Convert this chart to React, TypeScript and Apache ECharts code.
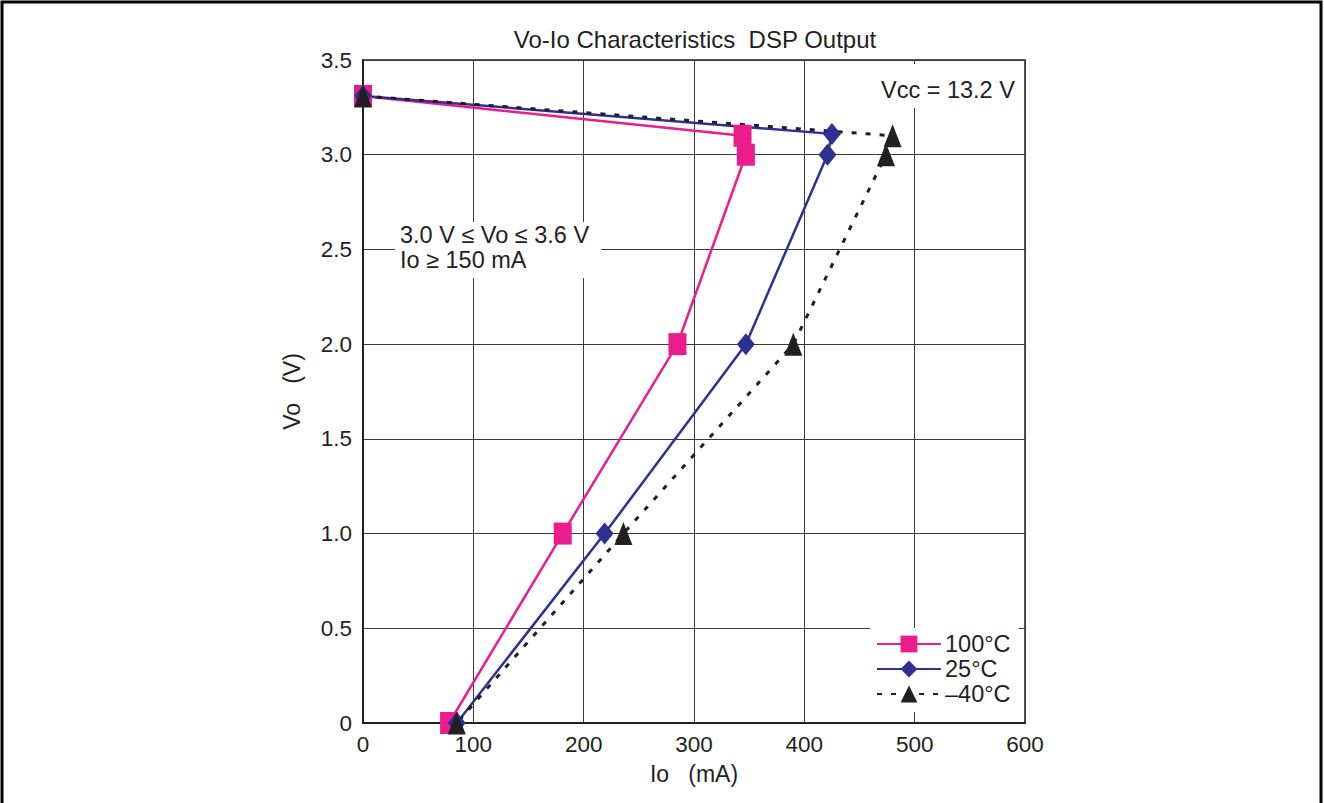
import React, { useEffect, useRef } from "react";
import * as echarts from "echarts";

const title = "Vo-Io Characteristics  DSP Output";
const seriesNames = ["100°C", "25°C", "–40°C"];
const io100 = [0, 344, 347, 285, 181, 78];
const vo100 = [3.31, 3.1, 3.0, 2.0, 1.0, 0];
const io25 = [0, 425, 421, 347, 219, 85];
const vo25 = [3.31, 3.11, 3.0, 2.0, 1.0, 0];
const ioM40 = [0, 480, 474, 390, 236, 85];
const voM40 = [3.31, 3.1, 3.0, 2.0, 1.0, 0];
const xTicks = [0, 100, 200, 300, 400, 500, 600];
const yTicks = [0, 0.5, 1.0, 1.5, 2.0, 2.5, 3.0, 3.5];
const noteLines = ["3.0 V ≤ Vo ≤ 3.6 V", "Io ≥ 150 mA"];
const vccNote = "Vcc = 13.2 V";

const FONT = "'Liberation Sans', Arial, Helvetica, sans-serif";
const INK = "#231f20";

function zip(xs: number[], ys: number[]) {
  return xs.map((x, i) => [x, ys[i]]);
}

export default function App() {
  const ref = useRef<HTMLDivElement>(null);
  useEffect(() => {
    if (!ref.current) return;
    const chart = echarts.init(ref.current, null, { renderer: "svg" });
    const option: any = {
      animation: false,
      backgroundColor: "#fff",
      textStyle: { fontFamily: FONT, color: INK },
      grid: {
        left: 363,
        top: 60,
        width: 662,
        height: 663,
        show: true,
        borderColor: INK,
        borderWidth: 1.5,
        backgroundColor: "transparent",
      },
      xAxis: {
        type: "value",
        min: xTicks[0],
        max: xTicks[xTicks.length - 1],
        interval: 100,
        name: "Io   (mA)",
        nameLocation: "middle",
        nameGap: 39,
        nameTextStyle: { fontSize: 23, color: INK, fontFamily: FONT },
        axisLine: { show: true, lineStyle: { color: INK, width: 2 } },
        axisTick: { show: false },
        axisLabel: { fontSize: 22.5, color: INK, fontFamily: FONT, margin: 10 },
        splitLine: { show: true, lineStyle: { color: "#3a3a3a", width: 1 } },
      },
      yAxis: {
        type: "value",
        min: yTicks[0],
        max: yTicks[yTicks.length - 1],
        interval: 0.5,
        name: "Vo   (V)",
        nameLocation: "middle",
        nameGap: 60,
        nameRotate: 90,
        nameTextStyle: { fontSize: 23, color: INK, fontFamily: FONT },
        axisLine: { show: true, lineStyle: { color: INK, width: 2 } },
        axisTick: { show: false },
        axisLabel: {
          fontSize: 22.5,
          color: INK,
          fontFamily: FONT,
          margin: 11,
          formatter: (v: number) => (v === 0 ? "0" : v.toFixed(1)),
        },
        splitLine: { show: true, lineStyle: { color: "#3a3a3a", width: 1 } },
      },
      legend: {
        orient: "vertical",
        left: 870,
        top: 628,
        itemWidth: 64,
        itemHeight: 21,
        itemGap: 1,
        padding: [4, 8, 6, 6],
        backgroundColor: "#fff",
        textStyle: {
          fontSize: 23.5,
          color: INK,
          fontFamily: FONT,
          padding: [0, 0, 0, -1],
        },
        data: seriesNames,
      },
      series: [
        {
          name: seriesNames[0],
          type: "line",
          data: zip(io100, vo100),
          clip: false,
          symbol: "rect",
          symbolSize: [18, 22],
          itemStyle: { color: "#ec1c8c" },
          lineStyle: { color: "#ec1c8c", width: 2.5 },
        },
        {
          name: seriesNames[1],
          type: "line",
          data: zip(io25, vo25),
          clip: false,
          symbol: "diamond",
          symbolSize: [18, 22],
          itemStyle: { color: "#2e3192" },
          lineStyle: { color: "#2e3192", width: 2.5 },
        },
        {
          name: seriesNames[2],
          type: "line",
          data: zip(ioM40, voM40),
          clip: false,
          symbol: "triangle",
          symbolSize: [18, 23],
          itemStyle: { color: INK },
          lineStyle: { color: INK, width: 3, type: [5, 9] },
        },
      ],
      graphic: [
        {
          type: "rect",
          shape: { x: 2, y: 2, width: 1319, height: 830 },
          style: { fill: "none", stroke: "#000", lineWidth: 3 },
          silent: true,
        },
        {
          type: "text",
          x: 695,
          y: 39,
          style: {
            text: title,
            font: `24px ${FONT}`,
            fill: INK,
            align: "center",
            verticalAlign: "middle",
          },
        },
        {
          type: "rect",
          shape: { x: 395, y: 222, width: 206, height: 56 },
          style: { fill: "#fff" },
          z: 5,
        },
        {
          type: "text",
          x: 400,
          y: 235,
          z: 6,
          style: { text: noteLines[0], font: `23.5px ${FONT}`, fill: INK, verticalAlign: "middle" },
        },
        {
          type: "text",
          x: 400,
          y: 260,
          z: 6,
          style: { text: noteLines[1], font: `23.5px ${FONT}`, fill: INK, verticalAlign: "middle" },
        },
        {
          type: "rect",
          shape: { x: 872, y: 64, width: 151, height: 44 },
          style: { fill: "#fff" },
          z: 5,
        },
        {
          type: "text",
          x: 881,
          y: 90,
          z: 6,
          style: { text: vccNote, font: `23.5px ${FONT}`, fill: INK, verticalAlign: "middle" },
        },
      ],
    };
    chart.setOption(option);
    return () => chart.dispose();
  }, []);
  return (
    <div
      ref={ref}
      style={{ position: "fixed", left: 0, top: 0, width: 1324, height: 803 }}
    />
  );
}
